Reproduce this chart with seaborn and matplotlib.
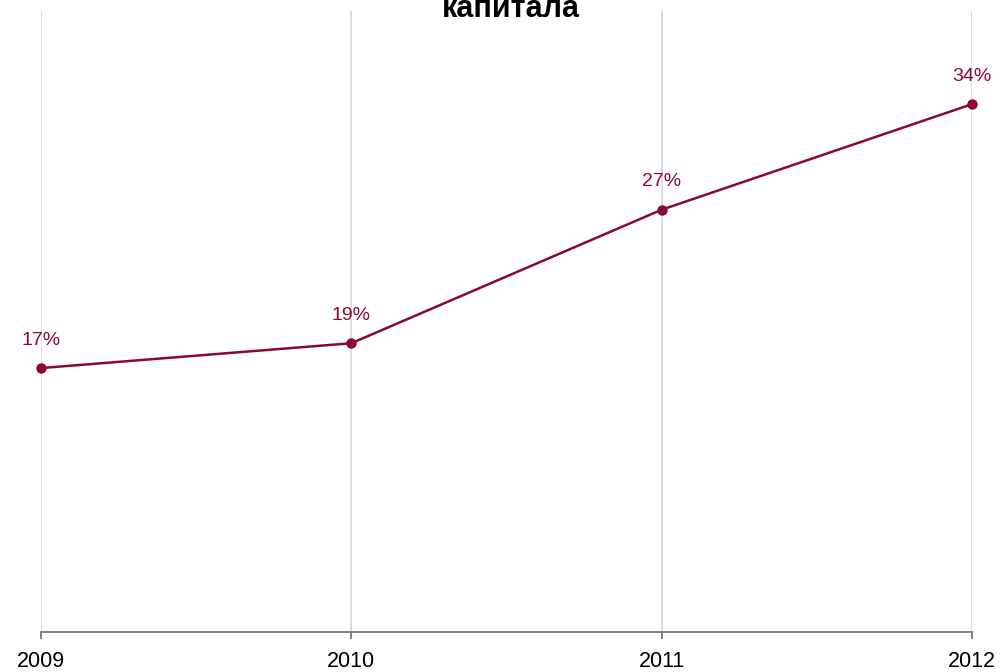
import matplotlib
matplotlib.use("Agg")
import matplotlib.pyplot as plt
import seaborn as sns
import pandas as pd

years = ["2009", "2010", "2011", "2012"]
roe = [17.0, 18.6, 27.2, 34.0]
labels = ["17%", "19%", "27%", "34%"]

sns.set_style("white")
plt.rcParams["font.family"] = ["Liberation Sans", "DejaVu Sans"]

red = "#8a0a2e"
df = pd.DataFrame({"year": years, "roe": roe})

fig = plt.figure(figsize=(10.02, 6.72), dpi=100)
ax = fig.add_axes([41 / 1002, 40 / 672, 931 / 1002, 621 / 672])

sns.lineplot(data=df, x="year", y="roe", ax=ax, color=red, linewidth=1.8,
             marker="o", markersize=7.5, markeredgewidth=0, sort=False,
             clip_on=False, zorder=5)

for i, (v, t) in enumerate(zip(roe, labels)):
    ax.annotate(t, (i, v), xytext=(0, 14), textcoords="offset points",
                ha="center", va="bottom", color=red, fontsize=14)

ax.set_xlim(0, 3)
ax.set_ylim(0, 40)
ax.set_xlabel("")
ax.set_ylabel("")
ax.set_yticks([])
ax.grid(axis="x", color="#d9d9d9", linewidth=1.3)
ax.set_axisbelow(True)
for s in ["top", "left", "right"]:
    ax.spines[s].set_visible(False)
ax.spines["bottom"].set_color("#777777")
ax.spines["bottom"].set_linewidth(1.3)
ax.tick_params(axis="x", direction="out", length=5, width=1.3, color="#777777",
               labelsize=15.5, labelcolor="black", pad=9, bottom=True)

fig.text(0.5095, 1 - 17 / 672, "капитала", ha="center", va="baseline",
         fontsize=22, fontweight="bold", color="black")

fig.savefig("out.png", dpi=100)
